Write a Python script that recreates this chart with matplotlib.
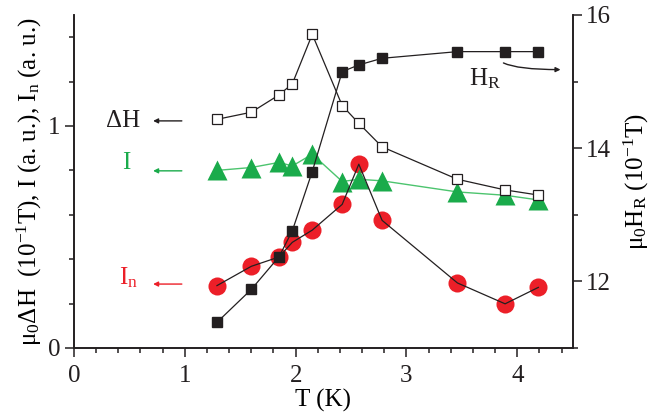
import matplotlib
matplotlib.use("Agg")
import matplotlib.pyplot as plt
from matplotlib.ticker import MultipleLocator

plt.rcParams['font.family'] = ['Liberation Serif', 'DejaVu Serif']
plt.rcParams['mathtext.fontset'] = 'custom'
plt.rcParams['mathtext.rm'] = 'Liberation Serif'
plt.rcParams['mathtext.it'] = 'Liberation Serif:italic'
plt.rcParams['mathtext.bf'] = 'Liberation Serif:bold'

# Data
T = [1.29, 1.60, 1.85, 1.97, 2.15, 2.42, 2.57, 2.78, 3.46, 3.89, 4.19]
dH = [1.03, 1.062, 1.14, 1.19, 1.413, 1.092, 1.012, 0.906, 0.76, 0.712, 0.689]
I = [0.80, 0.813, 0.836, 0.82, 0.873, 0.75, 0.76, 0.753, 0.703, 0.688, 0.667]
In = [0.281, 0.368, 0.41, 0.476, 0.531, 0.647, 0.828, 0.575, 0.293, 0.199, 0.273]
HR = [11.385, 11.88, 12.37, 12.76, 13.65, 15.15, 15.25, 15.35, 15.45, 15.45, 15.45]

BLACK = '#231f20'
GREEN = '#1aab4b'
GREEN_LINE = '#4cc46e'
RED = '#ec1f28'

fig = plt.figure(figsize=(6.6, 4.16), dpi=100)
ax = fig.add_axes([74/660, 1-348/416, (572.7-74)/660, (348-15)/416])
ax2 = ax.twinx()

fs = 18

# Left axis series
ax.plot(T, In, '-', color=BLACK, lw=0.9, zorder=3.5)
ax.plot(T, In, 'o', color=RED, ms=13, mec='none', zorder=2)
ax.plot(T, I, '-', color=GREEN_LINE, lw=1.0, zorder=2.5)
ax.plot(T, I, '^', color=GREEN, ms=14, mec='none', zorder=3)
ax.plot(T, dH, '-s', color=BLACK, lw=0.9, ms=7.5, mfc='white', mec=BLACK, mew=0.9, zorder=4)

# Right axis series (drawn on top)
ax2.plot(T, HR, '-s', color=BLACK, lw=0.9, ms=7.5, mfc=BLACK, mec=BLACK, zorder=5)

ax.set_xlim(0, 4.5)
ax.set_ylim(0, 1.5)
ax2.set_ylim(11, 16)

ax.xaxis.set_major_locator(MultipleLocator(1))
ax.xaxis.set_minor_locator(MultipleLocator(0.2))
ax.yaxis.set_major_locator(MultipleLocator(1))
ax.yaxis.set_minor_locator(MultipleLocator(0.2))
ax2.yaxis.set_major_locator(MultipleLocator(2))
ax2.yaxis.set_minor_locator(MultipleLocator(1))

for a in (ax, ax2):
    a.spines['top'].set_visible(False)
    for s in a.spines.values():
        s.set_linewidth(1.2)
        s.set_color(BLACK)
    a.tick_params(which='major', direction='out', length=6.5, width=1.1, labelsize=fs, colors=BLACK, pad=3)
    a.tick_params(which='minor', direction='out', length=3.8, width=1.1, colors=BLACK)
ax.tick_params(axis='x', which='major', pad=6)

ax.set_xlabel('T (K)', fontsize=fs, labelpad=1)
ax.set_ylabel(r'μ$_0$ΔH  (10$^{\mathrm{-1}}$T), I (a. u.), I$_\mathrm{n}$ (a. u.)', fontsize=fs, labelpad=3)
ax2.set_ylabel(r'μ$_0$H$_\mathrm{R}$ (10$^{\mathrm{-1}}$T)', fontsize=fs, labelpad=8)

# Annotations with arrows
def left_arrow(y, color):
    ax.annotate('', xy=(0.714, y), xytext=(0.973, y),
                arrowprops=dict(arrowstyle='-|>', color=color, lw=1.0, mutation_scale=7,
                                shrinkA=0, shrinkB=0))

ax.text(0.44, 1.023, 'ΔH', fontsize=fs, color=BLACK, ha='center', va='center')
left_arrow(1.023, BLACK)
ax.text(0.47, 0.833, 'I', fontsize=fs, color=GREEN, ha='center', va='center')
left_arrow(0.798, GREEN)
ax.text(0.49, 0.318, r'I$_\mathrm{n}$', fontsize=fs, color=RED, ha='center', va='center')
left_arrow(0.288, RED)

ax2.text(3.71, 15.05, r'H$_\mathrm{R}$', fontsize=fs, color=BLACK, ha='center', va='center')
ax2.annotate('', xy=(4.39, 15.18), xytext=(3.875, 15.28),
             arrowprops=dict(arrowstyle='-|>', color=BLACK, lw=1.0, mutation_scale=7,
                             shrinkA=0, shrinkB=0,
                             connectionstyle='angle3,angleA=-25,angleB=0'))

fig.savefig('out.png', dpi=100)
